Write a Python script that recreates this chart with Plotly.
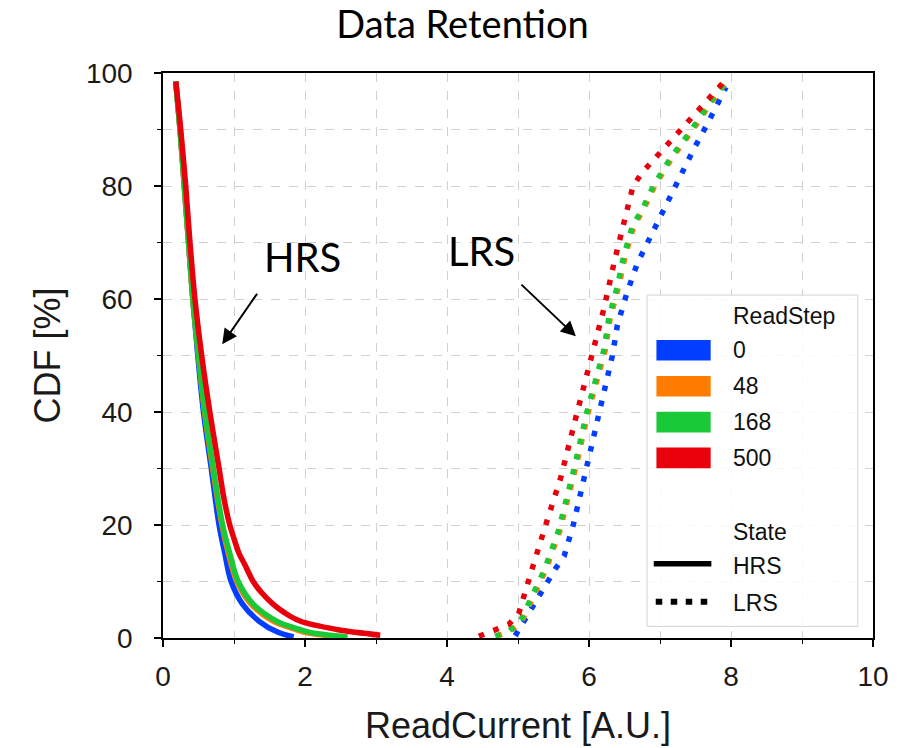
import plotly.graph_objects as go

# ---------------- data ----------------
read_steps = ["0", "48", "168", "500"]
colors = ["#023eff", "#ff7c00", "#1ac938", "#e8000b"]

# HRS curves (ReadCurrent vs CDF)
hrs_x_0 = [0.18, 0.24, 0.30, 0.36, 0.42, 0.49, 0.57, 0.68, 0.79, 0.87, 0.96, 1.12, 1.35, 1.62, 1.84]
hrs_y_0 = [98.5, 90, 80, 70, 60, 50, 40, 30, 20, 15, 10, 6, 3, 1, 0.2]
hrs_x_48 = [0.18, 0.24, 0.30, 0.36, 0.42, 0.50, 0.585, 0.70, 0.83, 0.92, 1.04, 1.24, 1.55, 1.80, 2.00, 2.50]
hrs_y_48 = [98.5, 90, 80, 70, 60, 50, 40, 30, 20, 15, 10, 6, 3, 1.8, 1, 0.2]
hrs_x_168 = [0.18, 0.24, 0.30, 0.36, 0.42, 0.50, 0.59, 0.71, 0.84, 0.94, 1.06, 1.27, 1.60, 1.85, 2.07, 2.60]
hrs_y_168 = [98.5, 90, 80, 70, 60, 50, 40, 30, 20, 15, 10, 6, 3, 1.8, 1, 0.2]
hrs_x_500 = [0.18, 0.25, 0.32, 0.38, 0.45, 0.545, 0.66, 0.79, 0.86, 0.94, 1.0, 1.07, 1.16, 1.27, 1.39, 1.55, 1.71, 1.93, 2.45, 3.06]
hrs_y_500 = [98.5, 90, 80, 70, 60, 50, 40, 30, 24.6, 20, 17.6, 15, 12.8, 10, 8, 6, 4.5, 3, 1.5, 0.5]

# LRS curves
lrs_x_0 = [4.96, 5.07, 5.30, 5.53, 5.65, 5.78, 5.93, 6.14, 6.33, 6.40, 6.53, 6.68, 6.87, 7.07, 7.28, 7.47, 7.68, 7.89, 7.93]
lrs_y_0 = [0.4, 2.6, 7.5, 12.3, 14.5, 20.1, 28.1, 39.1, 50, 55.4, 60.9, 66.3, 71.2, 76.3, 81.3, 86.4, 91.3, 96.3, 97.5]
lrs_x_48 = [4.70, 4.90, 5.05, 5.17, 5.39, 5.59, 5.81, 5.99, 6.23, 6.30, 6.42, 6.51, 6.63, 6.77, 6.93, 7.17, 7.45, 7.70, 7.94]
lrs_y_48 = [0.3, 1.3, 2.9, 6, 12, 19, 30, 40, 51, 56.7, 62.3, 67.6, 72.9, 75.9, 80.1, 85, 89.7, 94.4, 98.5]
lrs_x_168 = [4.68, 4.88, 5.03, 5.15, 5.37, 5.57, 5.79, 5.97, 6.21, 6.28, 6.40, 6.49, 6.61, 6.75, 6.91, 7.15, 7.43, 7.68, 7.93]
lrs_y_168 = [0.3, 1.3, 2.9, 6, 12, 19, 30, 40, 51, 56.7, 62.3, 67.6, 72.9, 75.9, 80.1, 85, 89.7, 94.4, 98.5]
lrs_x_500 = [4.45, 4.66, 4.87, 5.01, 5.07, 5.20, 5.40, 5.60, 5.82, 6.04, 6.21, 6.36, 6.51, 6.62, 6.75, 7.34, 7.94]
lrs_y_500 = [0.3, 1.4, 2.4, 4.3, 7, 12.3, 20.4, 28.3, 39.3, 50, 58.3, 66.8, 74.7, 80, 82.4, 90.7, 99]

hrs_x = [hrs_x_0, hrs_x_48, hrs_x_168, hrs_x_500]
hrs_y = [hrs_y_0, hrs_y_48, hrs_y_168, hrs_y_500]
lrs_x = [lrs_x_0, lrs_x_48, lrs_x_168, lrs_x_500]
lrs_y = [lrs_y_0, lrs_y_48, lrs_y_168, lrs_y_500]

x_ticks = [0, 2, 4, 6, 8, 10]
y_ticks = [0, 20, 40, 60, 80, 100]

# ---------------- figure ----------------
W, H = 905, 748
L, R, T, B = 162.7, 873.5, 72.7, 638.3

fig = go.Figure()

for i, step in enumerate(read_steps):
    fig.add_trace(go.Scatter(x=lrs_x[i], y=lrs_y[i], mode="lines",
                             name=f"{step} LRS", showlegend=False,
                             line=dict(color=colors[i], width=5.5, dash="5.5px,10px")))
for i, step in enumerate(read_steps):
    fig.add_trace(go.Scatter(x=hrs_x[i], y=hrs_y[i], mode="lines",
                             name=f"{step} HRS", showlegend=False,
                             line=dict(color=colors[i], width=5.5, shape="spline", smoothing=1.0)))

def px(x):
    return (x - L) / (R - L)

def py(y):
    return (B - y) / (B - T)

shapes = []
annotations = []
lf = dict(family="Liberation Sans, Arial, sans-serif", size=23, color="#111")

# manual legend box
shapes.append(dict(type="rect", xref="paper", yref="paper",
                   x0=px(647.3), x1=px(858.3), y0=py(626.7), y1=py(295),
                   fillcolor="rgba(255,255,255,0.85)", line=dict(color="#d4d4d4", width=1),
                   layer="above"))
annotations.append(dict(text="ReadStep", xref="paper", yref="paper", x=px(731), y=py(316),
                        xanchor="left", yanchor="middle", showarrow=False, font=lf))
patch_centers = [350.3, 386.3, 422.2, 458.0]
for i, step in enumerate(read_steps):
    cy = patch_centers[i]
    shapes.append(dict(type="rect", xref="paper", yref="paper",
                       x0=px(656.7), x1=px(711), y0=py(cy + 10.3), y1=py(cy - 10.3),
                       fillcolor=colors[i], line=dict(width=0), layer="above"))
    annotations.append(dict(text=step, xref="paper", yref="paper", x=px(731), y=py(cy),
                            xanchor="left", yanchor="middle", showarrow=False, font=lf))
annotations.append(dict(text="State", xref="paper", yref="paper", x=px(731), y=py(532),
                        xanchor="left", yanchor="middle", showarrow=False, font=lf))
shapes.append(dict(type="line", xref="paper", yref="paper", x0=px(654), x1=px(711.7),
                   y0=py(564), y1=py(564), line=dict(color="black", width=5.5), layer="above"))
shapes.append(dict(type="line", xref="paper", yref="paper", x0=px(656), x1=px(713),
                   y0=py(602), y1=py(602), line=dict(color="black", width=6, dash="6.5px,8.5px"),
                   layer="above"))
annotations.append(dict(text="HRS", xref="paper", yref="paper", x=px(731), y=py(566),
                        xanchor="left", yanchor="middle", showarrow=False, font=lf))
annotations.append(dict(text="LRS", xref="paper", yref="paper", x=px(731), y=py(603),
                        xanchor="left", yanchor="middle", showarrow=False, font=lf))

# HRS / LRS labels with arrows
cal = dict(family="Lato, Noto Sans, sans-serif", size=40, color="black")
annotations.append(dict(text="HRS", x=1.97, y=67.5, xref="x", yref="y", showarrow=False,
                        font=cal, xanchor="center", yanchor="middle"))
annotations.append(dict(text="LRS", x=4.48, y=68.5, xref="x", yref="y", showarrow=False,
                        font=cal, xanchor="center", yanchor="middle"))
annotations.append(dict(text="", x=0.834, y=52.0, ax=1.34, ay=61.2, xref="x", yref="y",
                        axref="x", ayref="y", showarrow=True, arrowhead=2, arrowsize=1.5,
                        arrowwidth=2, arrowcolor="black"))
annotations.append(dict(text="", x=5.815, y=53.4, ax=5.027, ay=62.8, xref="x", yref="y",
                        axref="x", ayref="y", showarrow=True, arrowhead=2, arrowsize=1.5,
                        arrowwidth=2, arrowcolor="black"))

tickfont = dict(family="Liberation Sans, Arial, sans-serif", size=28, color="#1a1a1a")
titlefont = dict(family="Liberation Sans, Arial, sans-serif", size=36, color="#1a1a1a")
grid = dict(gridcolor="#d0d0d0", griddash="dash", gridwidth=1)

fig.update_layout(
    width=W, height=H,
    margin=dict(l=L, r=W - R, t=T, b=H - B, autoexpand=False),
    paper_bgcolor="white", plot_bgcolor="white",
    title=dict(text="Data Retention", x=462.5 / W, xref="container", xanchor="center",
               y=1 - 25 / H, yref="container", yanchor="middle",
               font=dict(family="Lato, Noto Sans, sans-serif", size=38, color="black")),
    showlegend=False,
    shapes=shapes,
    annotations=annotations,
)
fig.update_xaxes(range=[0, 10], tickvals=x_ticks, ticks="outside", ticklen=7, tickwidth=1.5,
                 tickcolor="black", showline=True, linecolor="black", linewidth=1.5, mirror=True,
                 zeroline=False, showgrid=True, **grid, tickfont=tickfont, ticklabelstandoff=6,
                 minor=dict(dtick=1, tick0=0, ticks="outside", ticklen=4, tickwidth=1,
                            tickcolor="black", showgrid=True, gridcolor="#d0d0d0", griddash="dash"),
                 title=dict(text="ReadCurrent [A.U.]", font=titlefont, standoff=21),
                 automargin=False)
fig.update_yaxes(range=[0, 100], tickvals=y_ticks, ticks="outside", ticklen=7, tickwidth=1.5,
                 tickcolor="black", showline=True, linecolor="black", linewidth=1.5, mirror=True,
                 zeroline=False, showgrid=True, **grid, tickfont=tickfont, ticklabelstandoff=16,
                 minor=dict(dtick=10, tick0=0, ticks="outside", ticklen=4, tickwidth=1,
                            tickcolor="black", showgrid=True, gridcolor="#d0d0d0", griddash="dash"),
                 title=dict(text="CDF [%]", font=titlefont, standoff=14),
                 automargin=False)

fig.write_html("out.html")
